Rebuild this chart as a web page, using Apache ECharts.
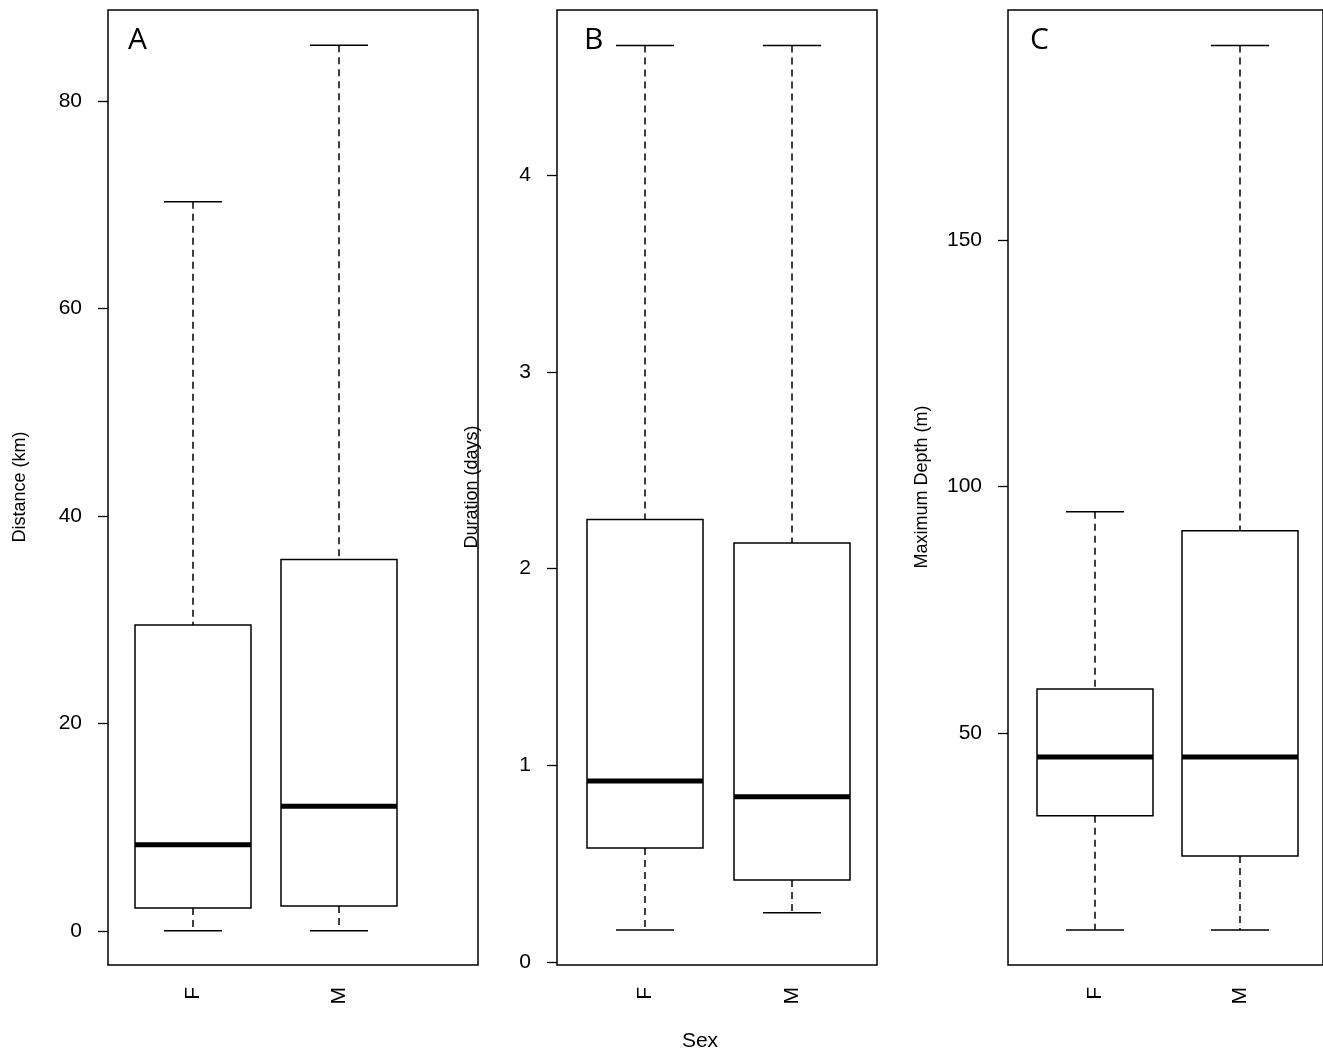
<!DOCTYPE html>
<html><head><meta charset="utf-8">
<script src="https://cdn.jsdelivr.net/npm/echarts@6/dist/echarts.min.js"></script>
<style>html,body{margin:0;background:#fff}#c{width:1323px;height:1054px}</style>
</head><body><div id="c"></div>
<script>
const categories = ['F','M'];
// [low, q1, median, q3, high]
const distance = [[0,2.2,8.3,29.5,70.3],[0,2.4,12.0,35.8,85.4]];
const duration = [[0.163,0.58,0.92,2.25,4.66],[0.25,0.417,0.84,2.13,4.66]];
const depth = [[10.0,33.2,45.1,58.9,94.9],[10.0,25.0,45.1,91.0,189.5]];
const ticksA = [0,20,40,60,80];
const ticksB = [0,1,2,3,4];
const ticksC = [50,100,150];

const panels = [
  {data:distance, ticks:ticksA, min:-3.3, max:88.8, frameL:108, frameW:370, left:120, width:292, name:'Distance (km)', nameX:20, letter:'A', lx:128},
  {data:duration, ticks:ticksB, min:-0.015, max:4.84, frameL:557, frameW:320, left:571.5, width:294, name:'Duration (days)', nameX:472, letter:'B', lx:584},
  {data:depth, ticks:ticksC, min:2.9, max:196.7, frameL:1008, frameW:330, left:1022.5, width:290, name:'Maximum Depth (m)', nameX:922, letter:'C', lx:1030}
];
const grid=[], xAxis=[], yAxis=[], series=[], graphic=[];
const font = 'Liberation Sans, Arial, sans-serif';
panels.forEach((p,i)=>{
  grid.push({left:p.left, width:p.width, top:10, height:955});
  grid.push({left:p.frameL, width:p.frameW, top:10, height:955, show:true, borderColor:'#000', borderWidth:1.5, backgroundColor:'transparent'});
  xAxis.push({type:'category', gridIndex:2*i, data:categories, axisLine:{show:false},
    axisTick:{alignWithLabel:true, length:10, lineStyle:{color:'#000',width:1.3}},
    axisLabel:{rotate:90, color:'#000', fontSize:21, fontFamily:font, margin:22}});
  xAxis.push({type:'value', gridIndex:2*i+1, show:false});
  yAxis.push({type:'value', gridIndex:2*i, min:p.min, max:p.max, offset:p.left-p.frameL,
    axisLine:{show:false}, splitLine:{show:false},
    axisTick:{show:true, length:10, customValues:p.ticks, lineStyle:{color:'#000',width:1.3}},
    axisLabel:{customValues:p.ticks, color:'#000', fontSize:21, fontFamily:font, margin:26}});
  yAxis.push({type:'value', gridIndex:2*i+1, show:false});
  series.push({type:'custom', xAxisIndex:2*i, yAxisIndex:2*i,
    data:p.data.map((d,k)=>[k,...d]),
    encode:{x:0, y:[1,2,3,4,5]},
    renderItem:(params, api)=>{
      const x=api.value(0);
      const c=v=>api.coord([x,v]);
      const lo=c(api.value(1)), q1=c(api.value(2)), md=c(api.value(3)), q3=c(api.value(4)), hi=c(api.value(5));
      const cx=lo[0], hw=58, cw=29;
      const st={stroke:'#000', lineWidth:1.5, fill:null};
      const dash={stroke:'#000', lineWidth:1.5, lineDash:[7,5]};
      return {type:'group', children:[
        {type:'line', shape:{x1:cx,y1:hi[1],x2:cx,y2:q3[1]}, style:dash},
        {type:'line', shape:{x1:cx,y1:q1[1],x2:cx,y2:lo[1]}, style:dash},
        {type:'line', shape:{x1:cx-cw,y1:hi[1],x2:cx+cw,y2:hi[1]}, style:st},
        {type:'line', shape:{x1:cx-cw,y1:lo[1],x2:cx+cw,y2:lo[1]}, style:st},
        {type:'rect', shape:{x:cx-hw,y:q3[1],width:2*hw,height:q1[1]-q3[1]}, style:{stroke:'#000',lineWidth:1.5,fill:'#fff'}},
        {type:'line', shape:{x1:cx-hw,y1:md[1],x2:cx+hw,y2:md[1]}, style:{stroke:'#000',lineWidth:5}}
      ]};
    }});
  graphic.push({type:'text', x:p.nameX, y:487, rotation:Math.PI/2, style:{text:p.name, fontSize:18, fontFamily:font, fill:'#000', align:'center', verticalAlign:'middle'}});
  graphic.push({type:'text', x:p.lx, y:25, style:{text:p.letter, fontSize:30, fontFamily:'Open Sans, sans-serif', fill:'#000'}});
});
graphic.push({type:'text', x:700, y:1041, style:{text:'Sex', fontSize:21, fontFamily:font, fill:'#000', align:'center', verticalAlign:'middle'}});
const chart = echarts.init(document.getElementById('c'));
chart.setOption({animation:false, backgroundColor:'#fff', grid, xAxis, yAxis, series, graphic});
</script></body></html>
